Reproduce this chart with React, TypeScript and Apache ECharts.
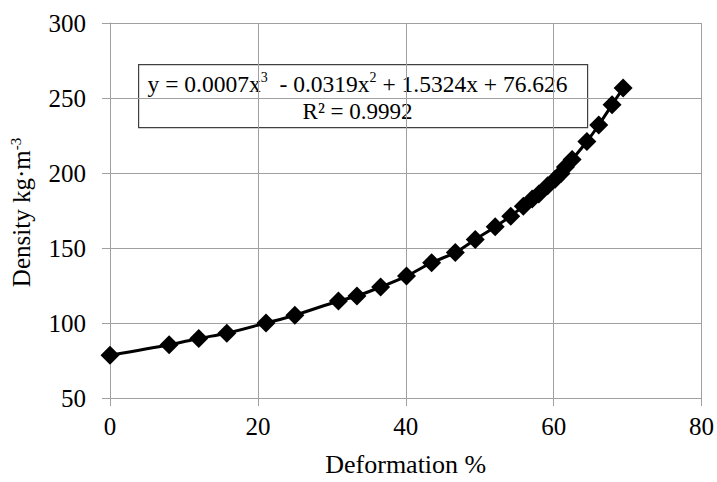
import React, { useEffect, useRef } from "react";
import * as echarts from "echarts";

const deformation = [0, 8.0, 12.0, 15.8, 21.1, 25.0, 30.9, 33.4, 36.6, 40.1, 43.5, 46.7, 49.4, 52.1, 54.2, 55.9, 57.1, 58.0, 59.2, 60.2, 61.0, 61.6, 62.5, 64.5, 66.1, 67.9, 69.4];
const density = [78.5, 85.5, 89.7, 93.2, 100, 105.2, 114.7, 118, 124, 131.3, 140.2, 147, 155.7, 164.2, 171.2, 177.9, 182.6, 186, 191.5, 195.8, 199.6, 204, 209, 221, 232, 245.5, 256.6];
const equationText = "y = 0.0007x{sup|3}  - 0.0319x{sup|2} + 1.5324x + 76.626";
const r2Text = "R² = 0.9992";

const FONT = "Liberation Serif";
const GRID = "#a0a0a0";

export default function App() {
  const ref = useRef<HTMLDivElement>(null);
  useEffect(() => {
    if (!ref.current) return;
    const chart = echarts.init(ref.current, undefined, { renderer: "svg" });
    const data = deformation.map((x, i) => [x, density[i]]);
    chart.setOption({
      animation: false,
      backgroundColor: "#fff",
      textStyle: { fontFamily: FONT },
      grid: { left: 110, right: 14, top: 23, bottom: 83 },
      xAxis: {
        type: "value",
        min: 0,
        max: 80,
        interval: 20,
        name: "Deformation %",
        nameLocation: "middle",
        nameGap: 53,
        nameTextStyle: { fontFamily: FONT, fontSize: 26, color: "#000" },
        axisLine: { show: true, lineStyle: { color: GRID, width: 1 } },
        axisTick: { show: true, inside: false, length: 8, lineStyle: { color: GRID } },
        axisLabel: { fontFamily: FONT, fontSize: 25, color: "#000", margin: 16 },
        splitLine: { show: true, lineStyle: { color: GRID, width: 1 } },
      },
      yAxis: {
        type: "value",
        min: 50,
        max: 300,
        interval: 50,
        name: "{n|Density kg·m}{s|-3}",
        nameLocation: "middle",
        nameGap: 75,
        nameRotate: 90,
        nameTextStyle: {
          fontFamily: FONT,
          fontSize: 25,
          color: "#000",
          padding: [0, 4, 0, 0],
          rich: {
            n: { fontFamily: FONT, fontSize: 25, color: "#000" },
            s: { fontFamily: FONT, fontSize: 15, color: "#000", padding: [0, 0, 12, 0] },
          },
        },
        axisLine: { show: true, lineStyle: { color: GRID, width: 1 } },
        axisTick: { show: true, inside: false, length: 8, lineStyle: { color: GRID } },
        axisLabel: { fontFamily: FONT, fontSize: 25, color: "#000", margin: 24 },
        splitLine: { show: true, lineStyle: { color: GRID, width: 1 } },
      },
      series: [
        {
          type: "line",
          data,
          smooth: 0.3,
          symbol: "diamond",
          symbolSize: 19,
          showAllSymbol: true,
          itemStyle: { color: "#000" },
          lineStyle: { color: "#000", width: 3 },
        },
      ],
      graphic: [
        {
          type: "group",
          left: 138,
          top: 64,
          children: [
            {
              type: "rect",
              shape: { x: 0, y: 0, width: 449, height: 63 },
              style: { fill: "#fff", stroke: "#404040", lineWidth: 1.2 },
            },
            {
              type: "text",
              x: 219,
              y: 19,
              style: {
                text: equationText,
                align: "center",
                verticalAlign: "middle",
                fontFamily: FONT,
                fontSize: 23.5,
                fill: "#000",
                rich: {
                  sup: { fontFamily: FONT, fontSize: 14, fill: "#000", padding: [0, 0, 12, 0] },
                },
              },
            },
            {
              type: "text",
              x: 219,
              y: 47,
              style: {
                text: r2Text,
                align: "center",
                verticalAlign: "middle",
                fontFamily: FONT,
                fontSize: 23,
                fill: "#000",
              },
            },
          ],
        },
      ],
    });
    return () => chart.dispose();
  }, []);
  return <div ref={ref} style={{ width: 717, height: 482, position: "absolute", left: 0, top: 0 }} />;
}
